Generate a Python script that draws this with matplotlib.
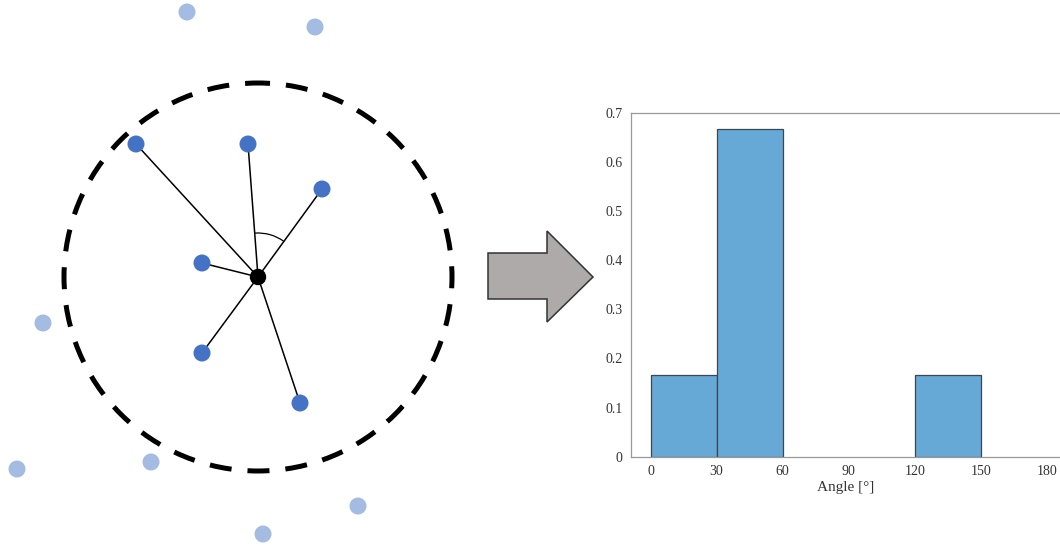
import numpy as np
import matplotlib
matplotlib.use("Agg")
import matplotlib.pyplot as plt
from matplotlib.patches import Circle, Arc, Polygon

# left sketch (pixel-like units, y down)
center = (258, 277)
radius = 194
near_x = [136, 248, 322, 202, 202, 300]
near_y = [144, 144, 189, 263, 353, 403]
far_x = [187, 315, 43, 17, 151, 358, 263]
far_y = [12, 27, 323, 469, 462, 506, 534]
arrow_x = [488, 547, 547, 593, 547, 547, 488]
arrow_y = [253, 253, 231, 277, 322, 299, 299]

# histogram
bin_edges = [0, 30, 60, 90, 120, 150, 180]
fractions = [0.1667, 0.6667, 0, 0, 0.1667, 0]
x_ticks = [0, 30, 60, 90, 120, 150, 180]
y_ticks = [0, 0.1, 0.2, 0.3, 0.4, 0.5, 0.6, 0.7]

W, H = 1060, 546
fig = plt.figure(figsize=(W / 100, H / 100), dpi=100)

ax0 = fig.add_axes([0, 0, 600 / W, 1])
ax0.set_xlim(0, 600)
ax0.set_ylim(H, 0)
ax0.axis("off")

ax0.add_patch(Circle(center, radius, fill=False, color="black", lw=3.6,
                     linestyle=(2, (4.4, 3.2))))
for x, y in zip(near_x, near_y):
    ax0.plot([center[0], x], [center[1], y], color="black", lw=1.1, zorder=2)
    ax0.add_patch(Circle((x, y), 7.8, color="#4472C4", zorder=3))
for x, y in zip(far_x, far_y):
    ax0.add_patch(Circle((x, y), 7.8, color="#A4BBE2", zorder=3))
ax0.add_patch(Circle(center, 7.5, color="black", zorder=4))

# angle arc between two neighbours
a1 = np.degrees(np.arctan2(near_y[1] - center[1], near_x[1] - center[0]))
a2 = np.degrees(np.arctan2(near_y[2] - center[1], near_x[2] - center[0]))
ax0.add_patch(Arc(center, 88, 88, theta1=a1, theta2=a2, color="black", lw=0.9))

ax0.add_patch(Polygon(list(zip(arrow_x, arrow_y)), closed=True,
                      facecolor="#AEAAAA", edgecolor="#333333", lw=1.1))

# histogram panel
left, right, top, bottom = 630.7, W, 112.7, 456.7
ax = fig.add_axes([left / W, (H - bottom) / H, (right - left) / W, (bottom - top) / H])
lefts = bin_edges[:-1]
widths = np.diff(bin_edges)
for l, w, f in zip(lefts, widths, fractions):
    if f > 0:
        ax.bar(l, f, width=w, align="edge", color="#66A9D6",
               edgecolor="#3B4654", linewidth=0.9)
ax.set_xlim(-9, 186)
ax.set_ylim(0, 0.7)
ax.set_xticks(x_ticks)
ax.set_yticks(y_ticks)
ax.set_yticklabels(["0", "0.1", "0.2", "0.3", "0.4", "0.5", "0.6", "0.7"])
ax.tick_params(length=0, labelsize=10, colors="#333333", pad=6,
               labelfontfamily="Liberation Serif")
for s in ["left", "bottom", "top"]:
    ax.spines[s].set_color("#999999")
    ax.spines[s].set_linewidth(0.9)
ax.spines["right"].set_visible(False)
ax.set_xlabel("Angle [°]", fontsize=11, family="Liberation Serif",
              color="#333333", labelpad=2)

fig.savefig("out.png", dpi=100)
